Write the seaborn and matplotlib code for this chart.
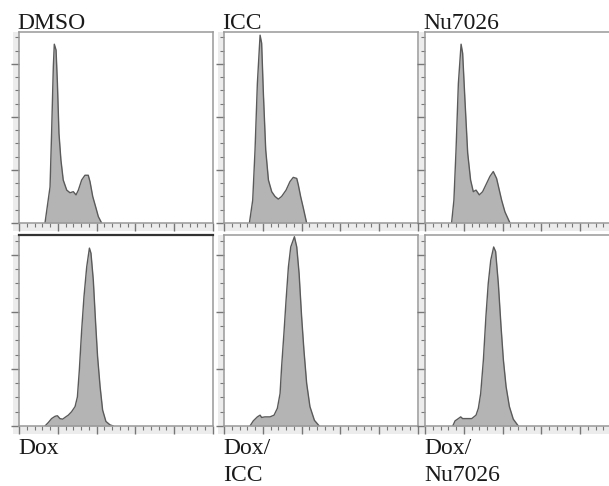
import matplotlib
matplotlib.use("Agg")
import matplotlib.pyplot as plt
from matplotlib.ticker import MultipleLocator
from matplotlib.patches import Rectangle
import seaborn as sns

# DNA content histograms (channel vs. count)
dmso_x = [134, 160, 168, 177, 182, 191, 198, 206, 216, 228, 246, 263, 280, 294, 306, 323, 340, 357, 366, 380, 397, 409, 426]
dmso_y = [0, 68, 169, 295, 337, 326, 263, 169, 119, 81, 62, 57, 59, 53, 62, 81, 90, 90, 78, 50, 28, 12, 0]

icc_x = [131, 148, 160, 172, 186, 194, 203, 215, 229, 246, 263, 280, 297, 320, 340, 357, 375, 383, 395, 409, 426]
icc_y = [0, 43, 138, 263, 354, 339, 244, 138, 81, 59, 50, 45, 50, 62, 78, 86, 84, 72, 50, 28, 0]

nu_x = [137, 149, 160, 172, 186, 194, 206, 220, 235, 249, 263, 280, 297, 318, 335, 352, 369, 383, 395, 412, 438]
nu_y = [0, 43, 138, 263, 337, 320, 231, 132, 81, 59, 62, 53, 59, 75, 88, 97, 84, 62, 43, 21, 0]

dox_x = [134, 151, 168, 186, 198, 211, 225, 237, 254, 271, 289, 301, 311, 323, 335, 349, 363, 371, 383, 395, 405, 418, 431, 448, 469, 486]
dox_y = [0, 6, 13, 17, 18, 13, 12, 15, 19, 25, 34, 51, 98, 168, 227, 279, 312, 303, 256, 180, 122, 69, 28, 8, 2, 0]

doxicc_x = [134, 151, 172, 186, 194, 211, 237, 258, 275, 289, 297, 309, 320, 332, 344, 363, 375, 387, 400, 412, 426, 443, 466, 491]
doxicc_y = [0, 9, 16, 19, 15, 16, 16, 19, 31, 57, 104, 163, 221, 279, 314, 332, 314, 268, 192, 133, 75, 34, 10, 0]

doxnu_x = [143, 155, 172, 184, 194, 215, 241, 263, 275, 287, 301, 314, 326, 339, 354, 364, 378, 392, 404, 418, 435, 455, 481]
doxnu_y = [0, 9, 13, 16, 13, 13, 13, 19, 31, 57, 116, 192, 250, 291, 314, 306, 250, 174, 116, 69, 34, 12, 0]

top_labels = ["DMSO", "ICC", "Nu7026"]
bottom_labels = ["Dox", "Dox/\nICC", "Dox/\nNu7026"]
top_data = [(dmso_x, dmso_y), (icc_x, icc_y), (nu_x, nu_y)]
bottom_data = [(dox_x, dox_y), (doxicc_x, doxicc_y), (doxnu_x, doxnu_y)]

sns.set_theme(style="white")
plt.rcParams['font.family'] = ['Liberation Serif', 'DejaVu Serif']

W, H = 609, 486
fig = plt.figure(figsize=(W / 100, H / 100), dpi=100)
fig.patch.set_facecolor("white")

col_left = [19, 224, 425]
panel_w, panel_h = 194, 191
row_top = [32, 235]
ylims = [360, 335]


def add_panel(left, top, ymax, xs, ys):
    ax = fig.add_axes([left / W, 1 - (top + panel_h) / H, panel_w / W, panel_h / H])
    # light grey band behind the tick area
    fig.patches.append(Rectangle(((left - 6) / W, 1 - (top + panel_h + 8) / H),
                                 (panel_w + 6) / W, (panel_h + 8) / H,
                                 transform=fig.transFigure, facecolor="#ececec",
                                 edgecolor="none", zorder=-5))
    ax.fill_between(xs, ys, 0, color="#b4b4b4", lw=0)
    sns.lineplot(x=xs, y=ys, ax=ax, color="#5a5a5a", lw=1.0, sort=False)
    ax.set_xlim(0, 1000)
    ax.set_ylim(0, ymax)
    ax.xaxis.set_major_locator(MultipleLocator(200))
    ax.xaxis.set_minor_locator(MultipleLocator(40))
    ax.yaxis.set_major_locator(MultipleLocator(100))
    ax.yaxis.set_minor_locator(MultipleLocator(25))
    ax.tick_params(which="both", direction="out", colors="#777777",
                   labelbottom=False, labelleft=False, bottom=True, left=True)
    ax.tick_params(which="major", length=6, width=1)
    ax.tick_params(which="minor", length=3, width=0.8)
    for s in ax.spines.values():
        s.set_color("#999999")
        s.set_linewidth(1.1)
    ax.set_xlabel("")
    ax.set_ylabel("")
    return ax


for i in range(3):
    xs, ys = top_data[i]
    add_panel(col_left[i], row_top[0], ylims[0], xs, ys)
    fig.text((col_left[i] - 2) / W, 1 - 29 / H, top_labels[i], fontsize=17,
             color="#1a1a1a", ha="left", va="baseline")

for i in range(3):
    xs, ys = bottom_data[i]
    ax = add_panel(col_left[i], row_top[1], ylims[1], xs, ys)
    if i == 0:
        ax.spines["top"].set_color("#333333")
        ax.spines["top"].set_linewidth(1.6)
    for j, line in enumerate(bottom_labels[i].split("\n")):
        fig.text((col_left[i] - 1) / W, 1 - (454 + 27 * j) / H, line, fontsize=17,
                 color="#1a1a1a", ha="left", va="baseline")

fig.savefig("out.png", dpi=100)
